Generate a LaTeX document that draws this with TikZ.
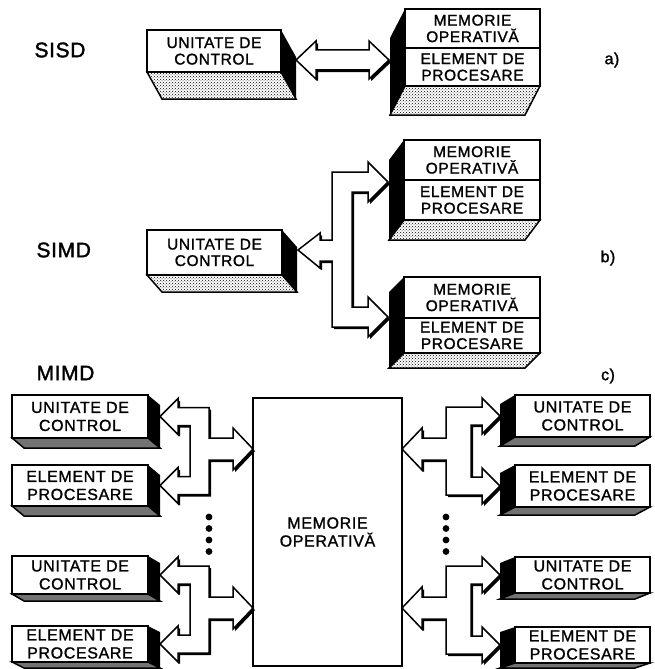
\documentclass[tikz,border=0pt]{standalone}
\usepackage{fontspec}
\setmainfont{Liberation Sans}
\newfontfamily\boxfont[LetterSpace=4, FakeBold=1.2]{Liberation Sans}
\newfontfamily\tagfont[LetterSpace=3, FakeBold=1.6]{Liberation Sans}
\usetikzlibrary{calc,patterns}

\tikzset{
  face/.style={draw, fill=white, line width=1.8pt, inner sep=0pt, outer sep=0pt,
    align=center, font=\boxfont\fontsize{15.5}{16.5}\selectfont},
  bigface/.style={face, font=\boxfont\fontsize{16}{18}\selectfont},
  stipple/.style={pattern=crosshatch dots},
  strip/.style={fill=black!55},
  edge/.style={draw, line width=1.5pt, line join=miter},
  busline/.style={draw, fill=white, line width=1.5pt, line join=miter},
  tag/.style={font=\tagfont\fontsize{21}{23}\selectfont, anchor=west},
  sub/.style={font=\tagfont\fontsize{16}{18}\selectfont},
}

% extruded box: black side face on the right, shaded lower face
\newcommand\extR[5]{%
  \fill (#1.north east) -- ++(#3,#4) -- ($(#2.south east)+(#3,#4)$) -- (#2.south east) -- cycle;
  \draw[edge,#5] (#2.south west) -- (#2.south east) -- ($(#2.south east)+(#3,#4)$) -- ($(#2.south west)+(#3,#4)$) -- cycle;}
% extruded box: black side face on the left
\newcommand\extL[5]{%
  \fill (#1.north west) -- ++(#3,#4) -- ($(#2.south west)+(#3,#4)$) -- (#2.south west) -- cycle;
  \draw[edge,#5] (#2.south west) -- (#2.south east) -- ($(#2.south east)+(#3,#4)$) -- ($(#2.south west)+(#3,#4)$) -- cycle;}

% hollow bus on the left of the memory: #1 upper box tip, #2 lower box tip, #3 memory tip, #4 style
\newcommand\pathL[4]{\path[#4] ($(#1)+(18,-9)$) -- ($(#1)+(49,-9)$) -- ($(#1|-#3)+(49,-11)$) -- ($(#3)+(-20,-11)$) -- ($(#3)+(-20,-21)$) -- (#3) -- ($(#3)+(-20,21)$) -- ($(#3)+(-20,11)$) -- ($(#1|-#3)+(49,11)$) -- ($(#2)+(49,9)$) -- ($(#2)+(18,9)$) -- ($(#2)+(18,18)$) -- (#2) -- ($(#2)+(18,-18)$) -- ($(#2)+(18,-9)$) -- ($(#2)+(30,-9)$) -- ($(#1)+(30,9)$) -- ($(#1)+(18,9)$) -- ($(#1)+(18,18)$) -- (#1) -- ($(#1)+(18,-18)$) -- cycle;}
% hollow bus on the right of the memory: #1 memory tip, #2 upper box tip, #3 lower box tip, #4 style
\newcommand\pathR[4]{\path[#4] ($(#1)+(20,-11)$) -- ($(#1)+(44,-11)$) -- ($(#1|-#2)+(44,-9)$) -- ($(#2)+(-18,-9)$) -- ($(#2)+(-18,-18)$) -- (#2) -- ($(#2)+(-18,18)$) -- ($(#2)+(-18,9)$) -- ($(#2)+(-29,9)$) -- ($(#3)+(-29,-9)$) -- ($(#3)+(-18,-9)$) -- ($(#3)+(-18,-18)$) -- (#3) -- ($(#3)+(-18,18)$) -- ($(#3)+(-18,9)$) -- ($(#1|-#3)+(44,9)$) -- ($(#1)+(44,11)$) -- ($(#1)+(20,11)$) -- ($(#1)+(20,21)$) -- (#1) -- ($(#1)+(20,-21)$) -- cycle;}
\newcommand\pathSIMD[1]{\path[#1] ($(simdC)+(22,-17)$) -- (simdC) -- ($(simdC)+(22,18)$) -- ($(simdC)+(22,11)$) -- ($(simdC)+(34,11)$) -- ($(simdC|-simdQ)+(34,10)$) -- ($(simdQ)+(-20,10)$) -- ($(simdQ)+(-20,20)$) -- (simdQ) -- ($(simdQ)+(-20,-20)$) -- ($(simdQ)+(-20,-10)$) -- ($(simdC|-simdQ)+(54,-10)$) -- ($(simdC|-simdP)+(54,10)$) -- ($(simdP)+(-20,10)$) -- ($(simdP)+(-20,20)$) -- (simdP) -- ($(simdP)+(-20,-20)$) -- ($(simdP)+(-20,-10)$) -- ($(simdC|-simdP)+(34,-10)$) -- ($(simdC)+(34,-10)$) -- ($(simdC)+(22,-10)$) -- cycle;}
\newcommand\pathSISD[1]{\path[#1] (sisdL) -- ($(sisdL)+(20,-19)$) -- ($(sisdL)+(20,-10)$) -- ($(sisdR)+(-20,-10)$) -- ($(sisdR)+(-20,-19)$) -- (sisdR) -- ($(sisdR)+(-20,19)$) -- ($(sisdR)+(-20,10)$) -- ($(sisdL)+(20,10)$) -- ($(sisdL)+(20,19)$) -- cycle;}
% a bus with its drop shadow
\newcommand\shadowed[1]{%
  \begin{scope}[transform canvas={shift={(2,2.2)}}]#1{fill=black}\end{scope}
  #1{busline}}

\begin{document}
\begin{tikzpicture}[x=1pt,y=-1pt]
\useasboundingbox (0,0) rectangle (654,669);
\fill[white] (0,0) rectangle (654,669);

% ---------------- SISD ----------------
\node[tag] (sisdtag) at (31,50) {SISD};
\node[face, minimum width=134pt, minimum height=42pt] (sisdcu) at (214,51) {UNITATE DE\\CONTROL};
\node[face, minimum width=135pt, minimum height=39pt] (sisdmem) at (472.5,28.5) {MEMORIE\\OPERATIVĂ};
\node[face, minimum width=135pt, minimum height=38pt, anchor=north] (sisdpe) at (sisdmem.south) {ELEMENT DE\\PROCESARE};
\node[sub] (taga) at (612,60) {a)};
\coordinate (sisdL) at ($(sisdcu.east)+(15,9)$);
\coordinate (sisdR) at ($(sisdpe.west)+(-16,-7)$);
\shadowed{\pathSISD}
\extR{sisdcu}{sisdcu}{15}{27}{stipple}
\extL{sisdmem}{sisdpe}{-15}{29}{stipple}

% ---------------- SIMD ----------------
\node[tag] (simdtag) at (33,250) {SIMD};
\node[face, minimum width=135pt, minimum height=45pt] (simdcu) at (214.5,252.5) {UNITATE DE\\CONTROL};
\node[face, minimum width=136pt, minimum height=40pt] (simdmemA) at (472,160) {MEMORIE\\OPERATIVĂ};
\node[face, minimum width=136pt, minimum height=40pt, anchor=north] (simdpeA) at (simdmemA.south) {ELEMENT DE\\PROCESARE};
\node[face, minimum width=136pt, minimum height=41pt] (simdmemB) at (472,297.5) {MEMORIE\\OPERATIVĂ};
\node[face, minimum width=136pt, minimum height=35pt, anchor=north] (simdpeB) at (simdmemB.south) {ELEMENT DE\\PROCESARE};
\node[sub] (tagb) at (608,258) {b)};
\coordinate (simdC) at ($(simdcu.east)+(16,-2.5)$);
\coordinate (simdP) at ($(simdpeA.north west)+(-16,2)$);
\coordinate (simdQ) at ($(simdpeB.north west)+(-16,-1)$);
\shadowed{\pathSIMD}
\extR{simdcu}{simdcu}{15}{17}{stipple}
\extL{simdmemA}{simdpeA}{-15}{20}{stipple}
\extL{simdmemB}{simdpeB}{-15}{15}{stipple}

% ---------------- MIMD ----------------
\node[tag] (mimdtag) at (33,373) {MIMD};
\node[sub] (tagc) at (608,376) {c)};
\node[bigface, minimum width=149pt, minimum height=268pt, line width=2.2pt] (mimdmem) at (327.5,532) {MEMORIE\\OPERATIVĂ};

\node[bigface, minimum width=136pt, minimum height=43pt] (luA) at (80,416.5) {UNITATE DE\\CONTROL};
\node[bigface, minimum width=136pt, minimum height=41pt] (lpA) at (80,485.5) {ELEMENT DE\\PROCESARE};
\node[bigface, minimum width=136pt, minimum height=38pt] (luB) at (80,575) {UNITATE DE\\CONTROL};
\node[bigface, minimum width=136pt, minimum height=36pt] (lpB) at (80,644) {ELEMENT DE\\PROCESARE};

\node[bigface, minimum width=135pt, minimum height=42pt] (ruA) at (582.5,416) {UNITATE DE\\CONTROL};
\node[bigface, minimum width=135pt, minimum height=42pt] (rpA) at (582.5,486) {ELEMENT DE\\PROCESARE};
\node[bigface, minimum width=135pt, minimum height=36pt] (ruB) at (582.5,575) {UNITATE DE\\CONTROL};
\node[bigface, minimum width=135pt, minimum height=36pt] (rpB) at (582.5,645) {ELEMENT DE\\PROCESARE};

\coordinate (tluA) at ($(luA.east)+(12,0)$);
\coordinate (tlpA) at ($(lpA.east)+(12,0)$);
\coordinate (tluB) at ($(luB.east)+(12,0)$);
\coordinate (tlpB) at ($(lpB.east)+(12,0)$);
\coordinate (truA) at ($(ruA.west)+(-15,0)$);
\coordinate (trpA) at ($(rpA.west)+(-15,0)$);
\coordinate (truB) at ($(ruB.west)+(-15,0)$);
\coordinate (trpB) at ($(rpB.west)+(-15,0)$);
\coordinate (tmL1) at ($(mimdmem.north west)+(0,51)$);
\coordinate (tmL2) at ($(mimdmem.north west)+(0,210)$);
\coordinate (tmR1) at ($(mimdmem.north east)+(0,51)$);
\coordinate (tmR2) at ($(mimdmem.north east)+(0,210)$);

\shadowed{\pathL{tluA}{tlpA}{tmL1}}
\shadowed{\pathL{tluB}{tlpB}{tmL2}}
\shadowed{\pathR{tmR1}{truA}{trpA}}
\shadowed{\pathR{tmR2}{truB}{trpB}}

\extR{luA}{luA}{12}{10}{strip}
\extR{lpA}{lpA}{12}{10}{strip}
\extR{luB}{luB}{12}{7}{strip}
\extR{lpB}{lpB}{12}{6}{strip}
\extL{ruA}{ruA}{-15}{9}{strip}
\extL{rpA}{rpA}{-15}{8}{strip}
\extL{ruB}{ruB}{-15}{6}{strip}
\extL{rpB}{rpB}{-15}{5}{strip}

% ellipsis dots on the outer bus lines
\foreach \yy in {517,528.5,540,551.5} {
  \fill (209,\yy) circle (3.4pt);
  \fill (446,\yy) circle (3.4pt);
}
\end{tikzpicture}
\end{document}
